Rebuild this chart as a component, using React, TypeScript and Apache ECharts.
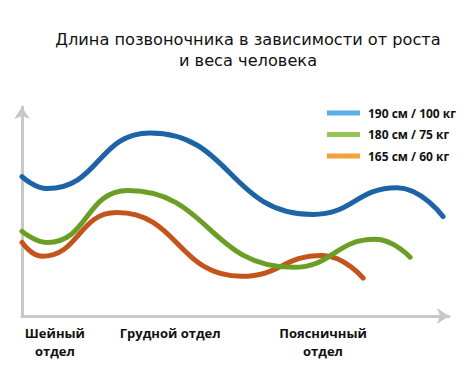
import React, { useEffect, useRef } from "react";
import * as echarts from "echarts";

const titleText = "Длина позвоночника в зависимости от роста\nи веса человека";

const seriesNames = ["190 см / 100 кг", "180 см / 75 кг", "165 см / 60 кг"];
const lineColors = ["#1d63a6", "#6b9e24", "#c4541c"];
const legendColors = ["#5aaee8", "#92c353", "#f2a238"];

const blueX = [0, 5.9, 30.0, 68.1, 87.8, 98.6];
const blueY = [66.7, 61.0, 87.6, 48.6, 61.4, 47.6];
const greenX = [0, 5.9, 24.8, 63.5, 82.7, 90.9];
const greenY = [40.5, 35.2, 60.0, 23.3, 36.7, 28.1];
const orangeX = [0, 4.7, 22.2, 51.5, 70.3, 79.9];
const orangeY = [35.2, 28.6, 49.5, 19.0, 29.0, 18.1];

const sectionPositions = [7.7, 34.7, 70.5];
const sectionLabels = ["Шейный\nотдел", "Грудной отдел", "Поясничный\nотдел"];

const zip = (xs: number[], ys: number[]) => xs.map((x, i) => [x, ys[i]]);

export default function App() {
  const ref = useRef<HTMLDivElement>(null);
  useEffect(() => {
    if (!ref.current) return;
    const chart = echarts.init(ref.current, undefined, { renderer: "svg" });
    const datas = [zip(blueX, blueY), zip(greenX, greenY), zip(orangeX, orangeY)];
    chart.setOption({
      animation: false,
      backgroundColor: "#ffffff",
      title: {
        text: titleText,
        left: 243,
        textAlign: "center",
        top: 24,
        textStyle: {
          fontFamily: "DejaVu Sans",
          fontSize: 16.2,
          fontWeight: "normal",
          color: "#111",
          lineHeight: 21,
        },
      },
      legend: {
        orient: "vertical",
        right: 7,
        top: 102,
        itemWidth: 33,
        itemHeight: 5,
        itemGap: 9.5,
        icon: "rect",
        textStyle: {
          fontFamily: "Open Sans",
          fontWeight: "bold",
          fontSize: 12,
          color: "#111",
          padding: [0, 0, 0, 3],
        },
        data: seriesNames.map((n, i) => ({
          name: n,
          itemStyle: { color: legendColors[i] },
        })),
      },
      grid: { left: 22, right: 19, top: 107, bottom: 62 },
      xAxis: {
        type: "value",
        min: 0,
        max: 100,
        splitLine: { show: false },
        axisTick: { show: false },
        axisLine: {
          show: true,
          symbol: ["none", "arrow"],
          symbolSize: [12, 12],
          lineStyle: { color: "#c8c8c8", width: 3 },
        },
        axisLabel: {
          customValues: sectionPositions,
          formatter: (v: number) => {
            const i = sectionPositions.findIndex((p) => Math.abs(p - v) < 0.01);
            return i >= 0 ? sectionLabels[i] : "";
          },
          margin: 8,
          fontFamily: "Open Sans",
          fontWeight: "bold",
          fontSize: 13,
          lineHeight: 18,
          color: "#111",
        },
      },
      yAxis: {
        type: "value",
        min: 0,
        max: 100,
        splitLine: { show: false },
        axisTick: { show: false },
        axisLabel: { show: false },
        axisLine: {
          show: true,
          symbol: ["none", "arrow"],
          symbolSize: [12, 12],
          lineStyle: { color: "#c8c8c8", width: 3 },
        },
      },
      series: seriesNames.map((n, i) => ({
        name: n,
        type: "line",
        data: datas[i],
        smooth: 0.5,
        showSymbol: false,
        symbol: "none",
        lineStyle: { color: lineColors[i], width: 5, cap: "round" },
        itemStyle: { color: legendColors[i] },
        z: 3 - i,
      })),
    });
    return () => chart.dispose();
  }, []);
  return <div ref={ref} style={{ width: 468, height: 378, position: "absolute", left: 0, top: 0 }} />;
}
